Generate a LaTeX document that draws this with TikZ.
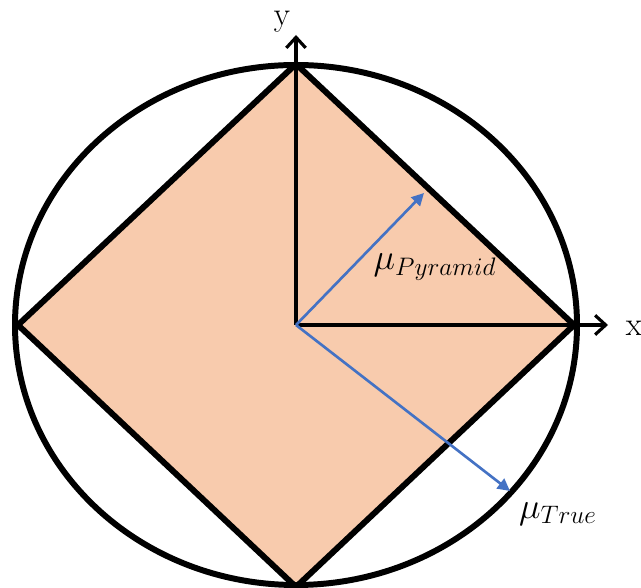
\documentclass[tikz,border=0pt]{standalone}
\usepackage{amsmath,amssymb}
\usepackage{xcolor}
\usepackage{tikz}
\usetikzlibrary{positioning,arrows.meta,calc}
\definecolor{peach}{RGB}{248,203,173}
\definecolor{vecblue}{RGB}{68,114,196}

\begin{document}
\begin{tikzpicture}[
    outline/.style={draw=black, line width=3.4pt},
    axis/.style={line width=1.8pt, -{Straight Barb[length=6pt,width=11pt,line width=1.8pt]}},
    vec/.style={draw=vecblue, line width=1.5pt, -{Triangle[length=7pt,width=7pt]}},
    lbl/.style={font=\fontsize{19}{22}\selectfont, inner sep=0pt},
    mulbl/.style={font=\fontsize{20}{24}\selectfont, inner sep=0pt}
]
\useasboundingbox (-5.92,-5.26) rectangle (6.9,6.5);
\coordinate (O) at (0,0);
\coordinate (top) at (0,5.22);
\coordinate (right) at (5.56,0);
\coordinate (bottom) at (0,-5.24);
\coordinate (left) at (-5.56,0);
\coordinate (ytip) at (0,5.8);
\coordinate (xtip) at (6.24,0);
\coordinate (pyrtip) at (2.56,2.64);
\coordinate (truetip) at (4.28,-3.32);
% pyramid and circle
\fill[peach] (top) -- (right) -- (bottom) -- (left) -- cycle;
\draw[outline] (O) ellipse [x radius=5.62cm, y radius=5.2cm];
\draw[outline, line join=miter] (top) -- (right) -- (bottom) -- (left) -- cycle;
% axes
\draw[axis] (O) -- (ytip);
\draw[axis] (O) -- (xtip);
\node[lbl] (ylabel) at (-0.28,6.06) {y};
\node[lbl] (xlabel) at (6.76,-0.06) {x};
% vectors
\draw[vec] (O) -- (pyrtip);
\draw[vec] (O) -- (truetip);
\node[mulbl] (mupyr) at (2.78,1.16) {$\mu_{Pyramid}$};
\node[mulbl] (mutrue) at (5.24,-3.78) {$\mu_{True}$};
\end{tikzpicture}
\end{document}
